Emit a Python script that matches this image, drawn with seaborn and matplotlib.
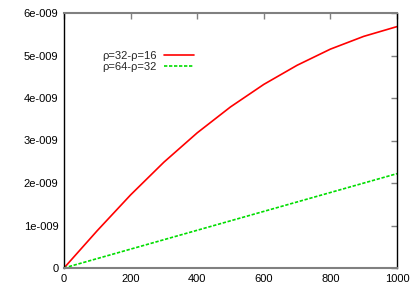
"""
Gnuplot-style line chart: rho differences vs x
"""

import pandas as pd
import numpy as np
import matplotlib
matplotlib.use("Agg")
import matplotlib.pyplot as plt
import seaborn as sns

# Data
x_vals = [0, 100, 200, 300, 400, 500, 600, 700, 800, 900, 1000]
rho32_16 = [0, 0.88e-9, 1.72e-9, 2.49e-9, 3.18e-9, 3.79e-9, 4.32e-9, 4.77e-9, 5.15e-9, 5.45e-9, 5.68e-9]
rho64_32 = [0, 0.222e-9, 0.444e-9, 0.666e-9, 0.888e-9, 1.11e-9, 1.332e-9, 1.554e-9, 1.776e-9, 1.998e-9, 2.22e-9]
labels = ["ρ=32-ρ=16", "ρ=64-ρ=32"]

x_ticks = [0, 200, 400, 600, 800, 1000]
y_ticks = [0, 1e-9, 2e-9, 3e-9, 4e-9, 5e-9, 6e-9]
y_tick_labels = ["0", "1e-009", "2e-009", "3e-009", "4e-009", "5e-009", "6e-009"]

df = pd.DataFrame({
    "x": x_vals * 2,
    "y": rho32_16 + rho64_32,
    "series": [labels[0]] * len(x_vals) + [labels[1]] * len(x_vals),
})

sns.set_style("white")
plt.rcParams['font.family'] = ['Liberation Sans', 'DejaVu Sans']

fig = plt.figure(figsize=(4.15, 2.91), dpi=100)
ax = fig.add_axes([64 / 415, 23 / 291, 333 / 415, 255 / 291])

sns.lineplot(data=df[df.series == labels[0]], x="x", y="y", color="#ff0000",
             linewidth=1.2, label=labels[0], ax=ax)
sns.lineplot(data=df[df.series == labels[1]], x="x", y="y", color="#00dd00",
             linewidth=1.2, linestyle=(0, (2, 1)), label=labels[1], ax=ax)

ax.set_xlim(0, 1000)
ax.set_ylim(0, 6e-9)
ax.set_xticks(x_ticks)
ax.set_xticklabels([str(t) for t in x_ticks])
ax.set_yticks(y_ticks)
ax.set_yticklabels(y_tick_labels)
ax.set_xlabel("")
ax.set_ylabel("")

ax.tick_params(direction='in', top=True, right=True, length=4, width=1,
               color='#808080', labelsize=8, labelcolor='black', pad=4)

for side in ['left', 'right']:
    ax.spines[side].set_color('black')
    ax.spines[side].set_linewidth(1)
for side in ['top', 'bottom']:
    ax.spines[side].set_color('#808080')
    ax.spines[side].set_linewidth(1.5)

ax.legend(loc='upper right', bbox_to_anchor=((194 - 64) / 333, (268 - 51) / 255),
          frameon=False, markerfirst=False, fontsize=8, handlelength=2.7,
          handletextpad=0.63, labelspacing=0.1, borderaxespad=0, borderpad=0)

fig.savefig("out.png", dpi=100)
